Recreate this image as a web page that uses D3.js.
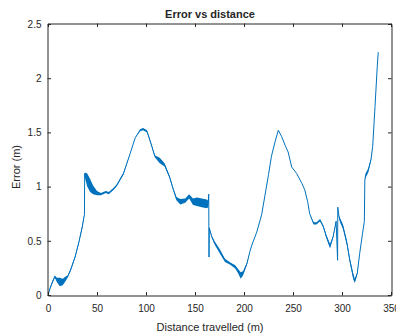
<!DOCTYPE html>
<html>
<head>
<meta charset="utf-8">
<script src="https://cdn.jsdelivr.net/npm/d3@7"></script>
<style>
  html, body { margin: 0; padding: 0; background: #fff; }
  svg { display: block; }
  text { font-family: "Liberation Sans", Arial, Helvetica, sans-serif; fill: #262626; }
</style>
</head>
<body>
<svg id="chart" width="396" height="333"></svg>
<script>
// Distance travelled (m)
const distance = [0, 2, 5, 7, 9, 12, 15, 18, 20, 23, 27.6, 31.6, 35, 36.7, 37.2, 37.4, 38, 40, 43, 46, 50, 54, 59, 62, 67, 70, 77, 84, 89, 94, 97, 101, 105, 109, 114, 119, 124, 128, 131, 135, 140, 144, 148, 152, 157, 162, 163.5, 164, 164.3, 164.6, 167, 170, 175.5, 180.6, 186, 191, 194, 196.6, 199, 203, 206, 208, 213, 218, 221.4, 225, 228, 231.6, 235, 238.5, 242, 245, 248.7, 253.8, 259, 262, 265, 267, 271, 274, 277.6, 281, 284, 287.8, 291, 294, 295.5, 295.7, 297, 298, 301, 305, 308, 311.5, 313, 315.6, 318, 321, 322.8, 323.3, 324, 326.8, 329.6, 331.3, 333.7, 336, 337];
// Error (m)
const error = [0, 0.06, 0.13, 0.17, 0.14, 0.12, 0.12, 0.15, 0.17, 0.23, 0.35, 0.49, 0.63, 0.72, 0.74, 1.12, 1.10, 1.06, 1.01, 0.97, 0.94, 0.93, 0.95, 0.94, 0.98, 1.01, 1.12, 1.31, 1.45, 1.52, 1.53, 1.51, 1.40, 1.28, 1.24, 1.20, 1.09, 0.97, 0.89, 0.86, 0.87, 0.91, 0.86, 0.86, 0.85, 0.84, 0.84, 0.93, 0.35, 0.62, 0.54, 0.48, 0.40, 0.32, 0.29, 0.26, 0.22, 0.18, 0.20, 0.29, 0.40, 0.46, 0.58, 0.74, 0.92, 1.11, 1.28, 1.41, 1.52, 1.46, 1.38, 1.32, 1.18, 1.12, 1.03, 0.97, 0.86, 0.75, 0.66, 0.66, 0.69, 0.63, 0.54, 0.45, 0.54, 0.68, 0.32, 0.81, 0.72, 0.69, 0.63, 0.48, 0.32, 0.17, 0.13, 0.20, 0.38, 0.57, 0.68, 1.06, 1.10, 1.15, 1.25, 1.37, 1.74, 2.11, 2.24];
// Half-width of the fast oscillation around the error (m)
const jitter = [0, 0.01, 0.01, 0.01, 0.02, 0.04, 0.03, 0.02, 0.01, 0.01, 0.01, 0.01, 0.015, 0.01, 0, 0, 0.03, 0.06, 0.06, 0.04, 0.02, 0.01, 0.01, 0.01, 0.01, 0.01, 0.01, 0, 0, 0.01, 0.01, 0.01, 0.01, 0.01, 0.025, 0.015, 0.01, 0.01, 0.015, 0.025, 0.02, 0.02, 0.03, 0.04, 0.04, 0.04, 0.03, 0, 0, 0, 0.01, 0.015, 0.02, 0.015, 0.01, 0.015, 0.02, 0.03, 0.02, 0.01, 0, 0, 0, 0, 0, 0, 0, 0, 0, 0, 0, 0, 0, 0, 0, 0, 0, 0, 0.01, 0.01, 0.01, 0.01, 0.015, 0.02, 0.01, 0.01, 0, 0, 0.01, 0.02, 0.02, 0.02, 0.02, 0.025, 0.02, 0.01, 0, 0, 0, 0, 0.02, 0.02, 0.01, 0, 0, 0, 0];

const xTicks = [0, 50, 100, 150, 200, 250, 300, 350];
const yTicks = [0, 0.5, 1, 1.5, 2, 2.5];
const titleText = "Error vs distance";
const xLabelText = "Distance travelled (m)";
const yLabelText = "Error (m)";

(function () {
const data = distance.map((d, i) => ({ x: d, y: error[i], j: jitter[i] }));

const svg = d3.select("#chart");
const mLeft = 48, mRight = 391, mTop = 24, mBottom = 295;
const x = d3.scaleLinear().domain([0, 350]).range([mLeft, mRight]);
const y = d3.scaleLinear().domain([0, 2.5]).range([mBottom, mTop]);
const axisColor = "#262626";
const lineColor = "#0072BD";

const plot = svg.append("g");
plot.append("clipPath").attr("id", "clip").append("rect")
  .attr("x", mLeft).attr("y", mTop).attr("width", mRight - mLeft).attr("height", mBottom - mTop);

plot.append("path")
  .datum(data)
  .attr("clip-path", "url(#clip)")
  .attr("fill", lineColor)
  .attr("d", d3.area().x(d => x(d.x)).y0(d => y(d.y - d.j)).y1(d => y(d.y + d.j)));

plot.append("path")
  .datum(data)
  .attr("clip-path", "url(#clip)")
  .attr("fill", "none")
  .attr("stroke", lineColor)
  .attr("stroke-width", 1)
  .attr("stroke-linejoin", "round")
  .attr("d", d3.line().x(d => x(d.x)).y(d => y(d.y)));

const tickLen = 3.5;
const fmt = d => String(d);

const xAxisB = d3.axisBottom(x).tickValues(xTicks).tickFormat(fmt).tickSizeInner(-tickLen).tickSizeOuter(0).tickPadding(9);
const xAxisT = d3.axisTop(x).tickValues(xTicks).tickFormat("").tickSizeInner(-tickLen).tickSizeOuter(0);
const yAxisL = d3.axisLeft(y).tickValues(yTicks).tickFormat(fmt).tickSizeInner(-tickLen).tickSizeOuter(0).tickPadding(6);
const yAxisR = d3.axisRight(y).tickValues(yTicks).tickFormat("").tickSizeInner(-tickLen).tickSizeOuter(0);

function style(g) {
  g.select(".domain").attr("stroke", axisColor).attr("stroke-width", 1);
  g.selectAll(".tick line").attr("stroke", axisColor).attr("stroke-width", 1);
  g.selectAll(".tick text").attr("fill", axisColor).style("font-size", "10px")
    .style("font-family", '"Liberation Sans", Arial, Helvetica, sans-serif');
}

svg.append("g").attr("transform", `translate(0,${mBottom + 0.5})`).call(xAxisB).call(style);
svg.append("g").attr("transform", `translate(0,${mTop - 0.5})`).call(xAxisT).call(style);
svg.append("g").attr("transform", `translate(${mLeft - 0.5},0)`).call(yAxisL).call(style);
svg.append("g").attr("transform", `translate(${mRight + 0.5},0)`).call(yAxisR).call(style);

svg.append("text")
  .attr("x", 210).attr("y", 18)
  .attr("text-anchor", "middle")
  .style("font-size", "11px").style("font-weight", "bold")
  .text(titleText);

svg.append("text")
  .attr("x", 210).attr("y", 331)
  .attr("text-anchor", "middle")
  .style("font-size", "11px")
  .text(xLabelText);

svg.append("text")
  .attr("transform", "translate(20,167) rotate(-90)")
  .attr("text-anchor", "middle")
  .style("font-size", "11px")
  .text(yLabelText);
})();
</script>
</body>
</html>
